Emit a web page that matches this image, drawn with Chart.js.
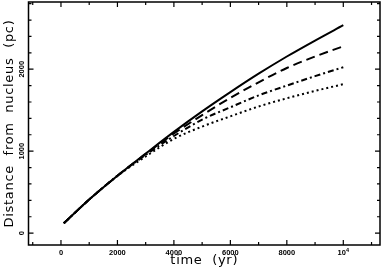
<!DOCTYPE html>
<html>
<head>
<meta charset="utf-8">
<script src="https://cdn.jsdelivr.net/npm/chart.js@4"></script>
<style>
  html, body { margin: 0; padding: 0; background: #fff; }
  #wrap { width: 382px; height: 275px; }
</style>
</head>
<body>
<div id="wrap"><canvas id="myChart"></canvas></div>
<script>
// time samples (yr)
const times = [100, 1000, 2000, 3000, 4000, 5000, 6000, 7000, 8000, 9000, 10000];
// distance from nucleus (pc), one list per curve
const solidDist   = [120, 410, 700, 970, 1235, 1485, 1720, 1945, 2155, 2350, 2537];
const dashedDist  = [120, 410, 700, 965, 1215, 1440, 1650, 1840, 2015, 2155, 2280];
const dashDotDist = [120, 410, 700, 955, 1185, 1385, 1535, 1680, 1800, 1915, 2024];
const dottedDist  = [120, 410, 698, 935, 1150, 1300, 1425, 1545, 1645, 1735, 1817];

// ticks
const xMajor = [0, 2000, 4000, 6000, 8000, 10000];
const xLabels = ['0', '2000', '4000', '6000', '8000', '10^4'];
const xMinor = [-1000, 1000, 3000, 5000, 7000, 9000, 11000];
const yMajor = [0, 1000, 2000];
const yLabels = ['0', '1000', '2000'];
const yMinor = [200, 400, 600, 800, 1200, 1400, 1600, 1800, 2200, 2400, 2600, 2800];

function pts(vals) {
	return times.map(function(t, i) { return {x: t, y: vals[i]}; });
}

// 축 제목 글자 간격 (스케일 그릴 때만)
const spacingPlugin = {
	id: 'spacing',
	beforeDraw: function(chart) { chart.ctx.letterSpacing = '0.7px'; },
	beforeDatasetsDraw: function(chart) { chart.ctx.letterSpacing = '0px'; }
};

// 프레임, 안쪽 눈금, 눈금 라벨
const framePlugin = {
	id: 'frame',
	afterDraw: function(chart) {
		const ctx = chart.ctx;
		const a = chart.chartArea;
		const xs = chart.scales.x, ys = chart.scales.y;
		ctx.save();
		ctx.letterSpacing = '0px';
		ctx.strokeStyle = '#000';
		ctx.lineWidth = 1.5;
		ctx.strokeRect(a.left, a.top, a.right - a.left, a.bottom - a.top);

		ctx.lineWidth = 1.2;
		ctx.beginPath();
		function xt(v, len) {
			const px = xs.getPixelForValue(v);
			ctx.moveTo(px, a.bottom); ctx.lineTo(px, a.bottom - len);
			ctx.moveTo(px, a.top); ctx.lineTo(px, a.top + len);
		}
		function yt(v, len) {
			const py = ys.getPixelForValue(v);
			ctx.moveTo(a.left, py); ctx.lineTo(a.left + len, py);
			ctx.moveTo(a.right, py); ctx.lineTo(a.right - len, py);
		}
		xMajor.forEach(function(v) { xt(v, 5); });
		xMinor.forEach(function(v) { xt(v, 3); });
		yMajor.forEach(function(v) { yt(v, 5); });
		yMinor.forEach(function(v) { yt(v, 3); });
		ctx.stroke();

		ctx.fillStyle = '#000';
		ctx.font = 'bold 7.5px "Liberation Sans"';
		ctx.textBaseline = 'middle';
		xMajor.forEach(function(v, i) {
			const px = xs.getPixelForValue(v);
			const lab = xLabels[i];
			if (lab.indexOf('^') > 0) {
				const parts = lab.split('^');
				const w1 = ctx.measureText(parts[0]).width;
				ctx.font = 'bold 5.5px "Liberation Sans"';
				const w2 = ctx.measureText(parts[1]).width;
				ctx.textAlign = 'left';
				ctx.fillText(parts[1], px - (w1 + w2) / 2 + w1, 250.5);
				ctx.font = 'bold 7.5px "Liberation Sans"';
				ctx.fillText(parts[0], px - (w1 + w2) / 2, 253);
			} else {
				ctx.textAlign = 'center';
				ctx.fillText(lab, px, 253);
			}
		});
		yMajor.forEach(function(v, i) {
			const py = ys.getPixelForValue(v);
			ctx.save();
			ctx.translate(21.5, py);
			ctx.rotate(-Math.PI / 2);
			ctx.textAlign = 'center';
			ctx.fillText(yLabels[i], 0, 0);
			ctx.restore();
		});
		ctx.restore();
	}
};

const ctx = document.getElementById('myChart');
const lineBase = {
	borderColor: '#000',
	borderWidth: 2,
	pointRadius: 0,
	fill: false,
	cubicInterpolationMode: 'monotone'
};

window.myChart = new Chart(ctx, {
	type: 'line',
	data: {
		datasets: [
			Object.assign({label: 'solid', data: pts(solidDist)}, lineBase),
			Object.assign({label: 'dashed', data: pts(dashedDist), borderDash: [9, 5]}, lineBase),
			Object.assign({label: 'dashdot', data: pts(dashDotDist), borderDash: [6, 3, 2, 3]}, lineBase),
			Object.assign({label: 'dotted', data: pts(dottedDist), borderDash: [2, 3]}, lineBase)
		]
	},
	options: {
		responsive: true,
		maintainAspectRatio: false,
		animation: false,
		layout: { padding: { top: 2, right: 2, left: 0, bottom: 0 } },
		plugins: {
			legend: { display: false },
			tooltip: { enabled: false }
		},
		scales: {
			x: {
				type: 'linear',
				min: -1150,
				max: 11300,
				grid: { display: false },
				border: { display: false },
				ticks: { display: false },
				title: {
					display: true,
					text: 'time  (yr)',
					color: '#000',
					font: { family: '"DejaVu Sans"', size: 13 },
					padding: { top: 0, bottom: 6.5 }
				},
				afterFit: function(s) { s.height = 30; }
			},
			y: {
				type: 'linear',
				min: -145,
				max: 2820,
				grid: { display: false },
				border: { display: false },
				ticks: { display: false },
				title: {
					display: true,
					text: 'Distance  from  nucleus  (pc)',
					color: '#000',
					font: { family: '"DejaVu Sans"', size: 13 },
					padding: { top: 2, bottom: 0 }
				},
				afterFit: function(s) { s.width = 28.5; }
			}
		}
	},
	plugins: [spacingPlugin, framePlugin]
});
</script>
</body>
</html>
